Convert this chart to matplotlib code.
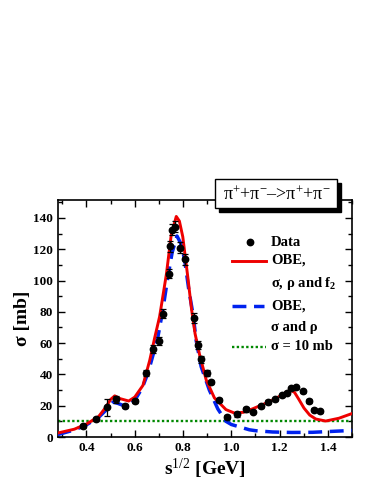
import matplotlib
matplotlib.use("Agg")
import matplotlib.pyplot as plt
from matplotlib.lines import Line2D
from matplotlib.patches import Rectangle
from matplotlib.ticker import MultipleLocator

plt.rcParams['font.family'] = ['Liberation Serif', 'DejaVu Serif']
plt.rcParams['mathtext.fontset'] = 'custom'
plt.rcParams['mathtext.rm'] = 'Liberation Serif'
plt.rcParams['mathtext.it'] = 'Liberation Serif:italic'
plt.rcParams['mathtext.bf'] = 'Liberation Serif:bold'

# ---- data points ----
data_x = [0.386, 0.439, 0.483, 0.521, 0.560, 0.599, 0.648, 0.675, 0.700, 0.717,
          0.741, 0.745, 0.755, 0.768, 0.787, 0.809, 0.845, 0.863, 0.874, 0.898,
          0.915, 0.947, 0.982, 1.025, 1.062, 1.091, 1.122, 1.154, 1.183, 1.210,
          1.231, 1.248, 1.268, 1.298, 1.320, 1.344, 1.367]
data_y = [7.0, 11.5, 19.0, 24.0, 19.8, 23.0, 40.7, 56.0, 61.5, 78.8,
          104.5, 122.0, 132.5, 134.5, 121.0, 113.5, 76.0, 58.8, 49.6, 40.7,
          35.1, 23.6, 12.8, 14.4, 17.7, 16.2, 19.6, 22.4, 24.0, 26.7,
          28.3, 31.1, 31.8, 29.3, 23.0, 17.5, 16.5]
data_err = [1.5, 1.5, 5.5, 2.0, 1.5, 1.5, 2.0, 2.5, 2.5, 3.0,
            3.0, 3.5, 3.5, 3.5, 3.5, 3.5, 3.0, 2.5, 2.0, 2.0,
            1.5, 1.5, 1.5, 1.5, 1.5, 1.0, 1.0, 1.0, 1.0, 1.0,
            1.0, 1.0, 1.0, 1.0, 1.0, 1.0, 1.0]

# ---- OBE with sigma, rho and f2 ----
red_x = [0.28, 0.35, 0.40, 0.45, 0.48, 0.50, 0.517, 0.54, 0.575, 0.60,
         0.634, 0.662, 0.682, 0.703, 0.731, 0.751, 0.772, 0.785, 0.799, 0.820,
         0.835, 0.850, 0.868, 0.896, 0.930, 0.978, 1.013, 1.050, 1.088, 1.157,
         1.200, 1.226, 1.245, 1.262, 1.280, 1.301, 1.325, 1.350, 1.391, 1.446, 1.50]
red_y = [2.5, 5.0, 8.3, 13.0, 19.0, 24.0, 26.3, 24.5, 23.0, 25.5,
         33.0, 49.0, 63.0, 77.0, 104.0, 129.0, 141.0, 138.0, 128.0, 102.0,
         82.0, 66.0, 53.0, 36.5, 25.0, 17.5, 15.3, 15.8, 18.0, 22.5,
         26.0, 28.5, 30.0, 28.5, 24.0, 18.5, 14.0, 11.5, 10.2, 12.0, 15.0]

# ---- OBE with sigma and rho ----
blue_x = [0.28, 0.35, 0.40, 0.45, 0.48, 0.51, 0.53, 0.555, 0.58, 0.60,
          0.63, 0.655, 0.675, 0.696, 0.715, 0.737, 0.755, 0.775, 0.79, 0.806,
          0.824, 0.843, 0.854, 0.875, 0.909, 0.944, 0.978, 1.00, 1.033, 1.075,
          1.102, 1.171, 1.25, 1.336, 1.446, 1.50]
blue_y = [1.5, 4.5, 7.8, 12.5, 17.0, 22.3, 21.5, 20.0, 21.0, 23.5,
          31.0, 41.0, 52.0, 64.0, 80.0, 102.0, 118.0, 128.5, 124.0, 114.0,
          94.0, 77.0, 62.0, 45.0, 30.0, 18.0, 10.0, 8.0, 6.5, 4.6,
          4.0, 3.2, 2.9, 3.0, 3.8, 4.2]

sigma_const = 10.0
x_range = [0.28, 1.50]
x_ticks = [0.4, 0.6, 0.8, 1.0, 1.2, 1.4]
y_ticks = [0, 20, 40, 60, 80, 100, 120, 140]

W, H = 374, 484
fig = plt.figure(figsize=(W / 100, H / 100), dpi=100)
ax = fig.add_axes([57.5 / W, (H - 437) / H, (352 - 57.5) / W, (437 - 200) / H])

ax.plot(x_range, [sigma_const, sigma_const], color='#008800', lw=1.7,
        linestyle=(0, (1, 1)), zorder=2)
ax.plot(blue_x, blue_y, color='#0022ee', lw=2.5, linestyle=(0, (4, 2.2)), zorder=3)
ax.plot(red_x, red_y, color='#ee0000', lw=2.1, zorder=4)
ax.errorbar(data_x, data_y, yerr=data_err, fmt='o', color='black', ms=4.6,
            elinewidth=0.9, capsize=2, capthick=0.9, zorder=5)

ax.set_xlim(*x_range)
ax.set_ylim(0, 151.5)
ax.set_xticks(x_ticks)
ax.set_yticks(y_ticks)
ax.xaxis.set_minor_locator(MultipleLocator(0.1))
ax.yaxis.set_minor_locator(MultipleLocator(10))
ax.set_xticklabels([f"{v:.1f}" for v in x_ticks], fontweight='bold', fontsize=9.5)
ax.set_yticklabels([str(v) for v in y_ticks], fontweight='bold', fontsize=9.5)
ax.tick_params(which='both', direction='in', top=True, right=True, width=1.0)
ax.tick_params(which='major', length=5)
ax.tick_params(which='minor', length=3)
for s in ax.spines.values():
    s.set_linewidth(1.2)

ax.set_xlabel(r"s$^{1/2}$ [GeV]", fontsize=14, fontweight='bold', labelpad=2)
ax.set_ylabel("σ [mb]", fontsize=14, fontweight='bold', labelpad=1)


def fx(x):
    return x / W


def fy(y):
    return 1 - y / H


# legend (manual)
fig.add_artist(Line2D([fx(250)], [fy(242.5)], marker='o', color='black', ms=4.6,
                      linestyle='none', transform=fig.transFigure))
fig.add_artist(Line2D([fx(232), fx(266)], [fy(260.5)] * 2, color='#ee0000', lw=2.1,
                      transform=fig.transFigure))
fig.add_artist(Line2D([fx(232), fx(264)], [fy(306)] * 2, color='#0022ee', lw=2.5,
                      linestyle=(0, (4, 2.2)), transform=fig.transFigure))
fig.add_artist(Line2D([fx(232), fx(266)], [fy(346.5)] * 2, color='#008800', lw=1.7,
                      linestyle=(0, (1, 1)), transform=fig.transFigure))
leg_texts = [("Data", 242.5), ("OBE,", 260.5), (r"σ, ρ and f$_\mathbf{2}$", 283),
             ("OBE,", 306), ("σ and ρ", 327), ("σ = 10 mb", 346.5)]
for t, y in leg_texts:
    fig.text(fx(271), fy(y), t, fontsize=10.5, fontweight='bold', ha='left', va='center')

# title box with shadow
fig.add_artist(Rectangle((fx(218.5), fy(211.5)), (337 - 215) / W, (208 - 179) / H,
                         facecolor='black', edgecolor='black', transform=fig.transFigure))
fig.add_artist(Rectangle((fx(215), fy(208)), (337 - 215) / W, (208 - 179) / H,
                         facecolor='white', edgecolor='black', lw=1.0,
                         transform=fig.transFigure))
fig.text(fx(276.5), fy(194.5), r"π$^{+}$+π$^{-}$–>π$^{+}$+π$^{-}$", fontsize=13,
         ha='center', va='center')

fig.savefig("out.png", dpi=100)
